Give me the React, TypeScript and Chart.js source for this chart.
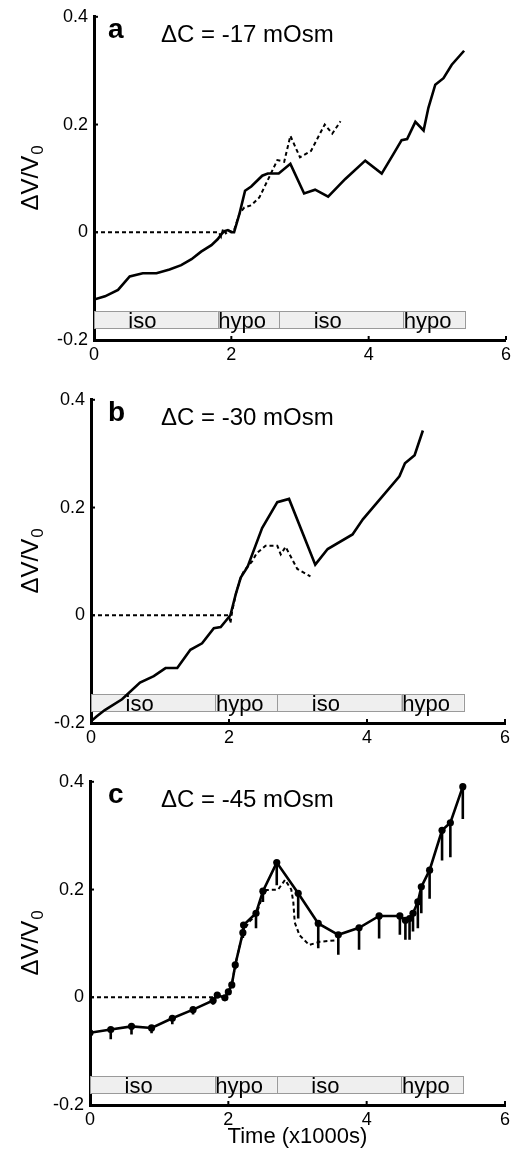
import React, { useEffect, useRef } from 'react';
import { Chart, registerables } from 'chart.js';
Chart.register(...registerables);

const FONT = '"Liberation Sans", Arial, Helvetica, sans-serif';

// axis ticks
const xTicks = [0, 2, 4, 6];
const yTicks = [-0.2, 0, 0.2, 0.4];

// solution protocol bars
const segStart = [0, 1.8, 2.7, 4.5];
const segEnd = [1.8, 2.7, 4.5, 5.4];
const segLabels = ['iso', 'hypo', 'iso', 'hypo'];
const segLabelOffset = [0.5, 0.01, 0.5, 0.01];
const segTop = -0.147;
const segBottom = -0.178;

// panel a (ΔC = -17 mOsm)
const aSolidX = [0, 0.16, 0.35, 0.52, 0.71, 0.91, 1.10, 1.27, 1.42, 1.56, 1.71, 1.80, 1.86, 1.90, 1.95, 2.00, 2.04, 2.12, 2.20, 2.29, 2.45, 2.53, 2.69, 2.86, 3.06, 3.22, 3.41, 3.66, 3.95, 4.19, 4.36, 4.48, 4.56, 4.68, 4.80, 4.87, 4.97, 5.09, 5.21, 5.39];
const aSolidY = [-0.125, -0.119, -0.107, -0.082, -0.076, -0.076, -0.069, -0.061, -0.050, -0.036, -0.024, -0.013, -0.003, 0.002, 0.004, 0.0, 0.0, 0.035, 0.077, 0.085, 0.105, 0.109, 0.109, 0.127, 0.072, 0.079, 0.066, 0.099, 0.133, 0.109, 0.145, 0.171, 0.173, 0.205, 0.189, 0.231, 0.274, 0.286, 0.311, 0.337];
const aDashX = [0, 1.82, 1.85, 1.88, 1.92, 1.97, 2.03, 2.12, 2.19, 2.29, 2.41, 2.55, 2.67, 2.77, 2.86, 3.00, 3.16, 3.36, 3.47, 3.59];
const aDashY = [0, 0, -0.008, 0.006, -0.002, 0.003, 0, 0.035, 0.046, 0.050, 0.065, 0.102, 0.134, 0.131, 0.179, 0.139, 0.151, 0.200, 0.183, 0.206];

// panel b (ΔC = -30 mOsm)
const bSolidX = [0, 0.08, 0.20, 0.45, 0.71, 0.91, 1.08, 1.25, 1.44, 1.61, 1.78, 1.88, 2.02, 2.10, 2.17, 2.27, 2.48, 2.70, 2.87, 3.25, 3.43, 3.79, 3.94, 4.47, 4.55, 4.69, 4.81];
const bSolidY = [-0.197, -0.188, -0.176, -0.156, -0.125, -0.113, -0.098, -0.098, -0.064, -0.052, -0.024, -0.022, 0.0, 0.040, 0.070, 0.090, 0.162, 0.210, 0.216, 0.094, 0.123, 0.150, 0.178, 0.258, 0.282, 0.297, 0.343];
const bDashX = [0, 2.0, 2.02, 2.05, 2.10, 2.17, 2.22, 2.34, 2.40, 2.53, 2.70, 2.75, 2.82, 2.99, 3.18];
const bDashY = [0, 0, -0.015, 0.010, 0.040, 0.070, 0.083, 0.101, 0.115, 0.129, 0.129, 0.113, 0.127, 0.086, 0.072];

// panel c (ΔC = -45 mOsm), mean with lower error bars
const cX = [0, 0.30, 0.60, 0.89, 1.19, 1.49, 1.78, 1.84, 1.95, 2.00, 2.05, 2.10, 2.21, 2.22, 2.40, 2.50, 2.70, 3.01, 3.30, 3.59, 3.89, 4.18, 4.48, 4.56, 4.62, 4.67, 4.74, 4.79, 4.91, 5.09, 5.21, 5.39];
const cY = [-0.066, -0.060, -0.054, -0.057, -0.039, -0.023, -0.006, 0.004, -0.001, 0.010, 0.023, 0.060, 0.120, 0.134, 0.156, 0.197, 0.250, 0.193, 0.137, 0.116, 0.129, 0.151, 0.151, 0.143, 0.146, 0.156, 0.177, 0.205, 0.236, 0.310, 0.324, 0.391];
const cErr = [0, 0.018, 0.015, 0.010, 0.011, 0.009, 0.008, 0.005, 0.005, 0.005, 0.005, 0.008, 0.010, 0.010, 0.028, 0.020, 0.042, 0.047, 0.046, 0.037, 0.041, 0.042, 0.035, 0.036, 0.039, 0.034, 0.049, 0.049, 0.053, 0.056, 0.064, 0.060];
const cDashX = [0, 1.80, 1.85, 1.95, 2.00, 2.05, 2.10, 2.21, 2.30, 2.40, 2.50, 2.55, 2.72, 2.82, 2.91, 2.94, 2.96, 3.03, 3.17, 3.32, 3.59];
const cDashY = [0, 0, 0.004, -0.001, 0.010, 0.023, 0.060, 0.120, 0.140, 0.152, 0.190, 0.199, 0.200, 0.218, 0.200, 0.176, 0.139, 0.115, 0.097, 0.103, 0.106];

const pts = (xs: number[], ys: number[]) => xs.map((x, i) => ({ x, y: ys[i] }));
const errPts = (xs: number[], ys: number[], es: number[]) => {
  const out: any[] = [];
  xs.forEach((x, i) => {
    if (es[i] > 0) {
      out.push({ x, y: ys[i] }, { x, y: ys[i] - es[i] }, { x, y: null });
    }
  });
  return out;
};

type Panel = {
  letter: string;
  note: string;
  top: number;
  height: number;
  yWidth: number;
  padRight: number;
  xH: number;
  xTitle: boolean;
  datasets: any[];
};

const solidStyle = { borderColor: '#000', borderWidth: 2.6, pointRadius: 0, showLine: true, fill: false, tension: 0 };
const dashStyle = { borderColor: '#000', borderWidth: 2, borderDash: [4, 3], pointRadius: 0, showLine: true, fill: false, tension: 0 };

const panels: Panel[] = [
  {
    letter: 'a', note: '\u0394C = -17 mOsm', top: 0, height: 372, yWidth: 94, padRight: 8, xH: 32, xTitle: false,
    datasets: [
      { ...solidStyle, data: pts(aSolidX, aSolidY), order: 0 },
      { ...dashStyle, data: pts(aDashX, aDashY), order: 1 },
    ],
  },
  {
    letter: 'b', note: '\u0394C = -30 mOsm', top: 383, height: 372, yWidth: 91, padRight: 10, xH: 32, xTitle: false,
    datasets: [
      { ...solidStyle, data: pts(bSolidX, bSolidY), order: 0 },
      { ...dashStyle, data: pts(bDashX, bDashY), order: 1 },
    ],
  },
  {
    letter: 'c', note: '\u0394C = -45 mOsm', top: 765, height: 386, yWidth: 90, padRight: 10, xH: 46, xTitle: true,
    datasets: [
      { ...solidStyle, data: pts(cX, cY), pointRadius: 3.6, pointBackgroundColor: '#000', pointBorderColor: '#000', pointBorderWidth: 0, order: 0 },
      { ...dashStyle, data: pts(cDashX, cDashY), order: 1 },
      { borderColor: '#000', borderWidth: 2.6, pointRadius: 0, showLine: true, spanGaps: false, data: errPts(cX, cY, cErr), order: 2 },
    ],
  },
];

const decoPlugin = (p: Panel) => ({
  id: 'deco_' + p.letter,
  beforeDatasetsDraw(chart: any) {
    const { ctx, chartArea, scales } = chart;
    const x = scales.x, y = scales.y;
    ctx.save();
    for (let i = 0; i < segStart.length; i++) {
      const x0 = x.getPixelForValue(segStart[i]);
      const x1 = x.getPixelForValue(segEnd[i]);
      const y0 = y.getPixelForValue(segTop);
      const y1 = y.getPixelForValue(segBottom);
      ctx.fillStyle = '#efefef';
      ctx.fillRect(x0, y0, x1 - x0, y1 - y0);
      ctx.strokeStyle = '#9a9a9a';
      ctx.lineWidth = 1;
      ctx.strokeRect(Math.round(x0) + 0.5, Math.round(y0) + 0.5, Math.round(x1 - x0), Math.round(y1 - y0));
    }
    for (let i = 0; i < segStart.length; i++) {
      ctx.fillStyle = '#000';
      ctx.font = `22px ${FONT}`;
      ctx.textAlign = 'left';
      ctx.textBaseline = 'alphabetic';
      ctx.fillText(segLabels[i], x.getPixelForValue(segStart[i] + segLabelOffset[i]), y.getPixelForValue(segBottom));
    }
    // small inward tick marks
    ctx.strokeStyle = '#000';
    ctx.lineWidth = 2;
    xTicks.forEach((v) => {
      if (v === 0) return;
      const px = x.getPixelForValue(v);
      ctx.beginPath();
      ctx.moveTo(px, chartArea.bottom);
      ctx.lineTo(px, chartArea.bottom - 4);
      ctx.stroke();
    });
    yTicks.forEach((v) => {
      const py = y.getPixelForValue(v);
      ctx.beginPath();
      ctx.moveTo(chartArea.left, py);
      ctx.lineTo(chartArea.left + 4, py);
      ctx.stroke();
    });
    ctx.restore();
  },
  afterDraw(chart: any) {
    const { ctx, chartArea } = chart;
    ctx.save();
    ctx.fillStyle = '#000';
    ctx.textAlign = 'left';
    ctx.textBaseline = 'alphabetic';
    ctx.font = `bold 28px ${FONT}`;
    ctx.fillText(p.letter, 108, chartArea.top + 21);
    ctx.font = `24px ${FONT}`;
    ctx.fillText(p.note, 161, chartArea.top + 25);
    // y title ΔV/V0 rotated
    const cy = (chartArea.top + chartArea.bottom) / 2;
    ctx.translate(38, cy);
    ctx.rotate(-Math.PI / 2);
    ctx.font = `24px ${FONT}`;
    const main = '\u0394V/V';
    const w1 = ctx.measureText(main).width;
    ctx.font = `17px ${FONT}`;
    const w2 = ctx.measureText('0').width;
    const start = -(w1 + w2) / 2;
    ctx.font = `24px ${FONT}`;
    ctx.fillText(main, start, 0);
    ctx.font = `17px ${FONT}`;
    ctx.fillText('0', start + w1 + 1, 5);
    ctx.restore();
  },
});

function PanelChart({ p }: { p: Panel }) {
  const ref = useRef<HTMLCanvasElement | null>(null);
  useEffect(() => {
    if (!ref.current) return;
    const chart = new Chart(ref.current, {
      type: 'scatter',
      data: { datasets: p.datasets },
      options: {
        responsive: false,
        animation: false,
        events: [],
        layout: { padding: { top: 15, right: p.padRight, left: 0, bottom: 0 } },
        plugins: { legend: { display: false }, tooltip: { enabled: false } },
        scales: {
          x: {
            type: 'linear',
            min: 0,
            max: 6,
            afterBuildTicks: (s: any) => { s.ticks = xTicks.map((v) => ({ value: v })); },
            afterFit: (s: any) => { s.height = p.xH; },
            grid: { display: false, drawTicks: false },
            border: { display: true, width: 3, color: '#000' },
            ticks: {
              padding: 4,
              color: '#000',
              font: { family: FONT, size: 18 },
              maxRotation: 0,
              autoSkip: false,
              callback: (v: any) => String(v),
            },
            title: p.xTitle
              ? { display: true, text: 'Time (x1000s)', color: '#000', font: { family: FONT, size: 22 }, padding: { top: 0, bottom: 1 } }
              : { display: false },
          },
          y: {
            type: 'linear',
            min: -0.2,
            max: 0.4,
            afterBuildTicks: (s: any) => { s.ticks = yTicks.map((v) => ({ value: v })); },
            afterFit: (s: any) => { s.width = p.yWidth; },
            grid: { display: false, drawTicks: false },
            border: { display: true, width: 3, color: '#000' },
            ticks: {
              padding: 6,
              color: '#000',
              font: { family: FONT, size: 18 },
              autoSkip: false,
              callback: (v: any) => (Math.abs(v) < 1e-9 ? '0' : String(Math.round(v * 10) / 10)),
            },
          },
        },
      } as any,
      plugins: [decoPlugin(p)],
    });
    return () => chart.destroy();
  }, [p]);
  return (
    <canvas
      ref={ref}
      width={515}
      height={p.height}
      style={{ position: 'absolute', left: 0, top: p.top, width: 515, height: p.height }}
    />
  );
}

export default function App() {
  return (
    <div style={{ position: 'absolute', left: 0, top: 0, width: 515, height: 1151, background: '#fff' }}>
      {panels.map((p) => (
        <PanelChart key={p.letter} p={p} />
      ))}
    </div>
  );
}
